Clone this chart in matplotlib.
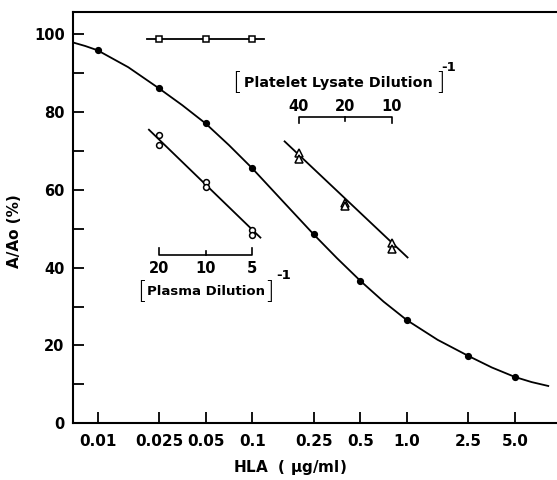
import matplotlib
matplotlib.use('Agg')
import matplotlib.pyplot as plt
from matplotlib.ticker import FixedLocator, NullLocator

# %% data (x in HLA ug/ml, y in A/Ao %)
hla_x = [0.01, 0.025, 0.05, 0.1, 0.25, 0.5, 1.0, 2.5, 5.0]
hla_y = [95.8, 86.0, 77.0, 65.5, 48.5, 36.6, 26.5, 17.3, 11.9]

# fitted curve
fit_x = [0.00694, 0.00832, 0.01, 0.0158, 0.025, 0.0353, 0.05, 0.0707, 0.1,
         0.158, 0.25, 0.3535, 0.5, 0.707, 1.0, 1.58, 2.5, 3.54, 5.0, 6.4, 8.2]
fit_y = [97.8, 96.9, 95.8, 91.45, 86.0, 81.7, 77.0, 71.45, 65.5,
         57.0, 48.5, 42.4, 36.6, 31.25, 26.5, 21.45, 17.3, 14.35, 11.9, 10.6, 9.6]

# plasma dilution (duplicates), plotted on the HLA scale
plasma_x = [0.025, 0.025, 0.05, 0.05, 0.1, 0.1]
plasma_y = [74.0, 71.6, 61.9, 60.7, 49.7, 48.4]
plasma_line_x = [0.0215, 0.113]
plasma_line_y = [75.4, 47.7]
plasma_ticks = [0.025, 0.05, 0.1]
plasma_labels = ['20', '10', '5']

# platelet lysate dilution (duplicates)
plt_x = [0.2, 0.2, 0.4, 0.4, 0.8, 0.8]
plt_y = [69.3, 67.8, 56.6, 55.8, 46.4, 44.7]
plt_line_x = [0.162, 1.01]
plt_line_y = [72.4, 42.6]
plt_ticks = [0.2, 0.4, 0.8]
plt_labels = ['40', '20', '10']

# control (open squares)
ctrl_x = [0.025, 0.05, 0.1]
ctrl_y = [98.6, 98.6, 98.6]
ctrl_line_x = [0.021, 0.119]
ctrl_line_y = [98.6, 98.6]

xticks = [0.01, 0.025, 0.05, 0.1, 0.25, 0.5, 1.0, 2.5, 5.0]
xticklabels = ['0.01', '0.025', '0.05', '0.1', '0.25', '0.5', '1.0', '2.5', '5.0']
yticks = [0, 20, 40, 60, 80, 100]

plt.rcParams['font.family'] = 'DejaVu Sans'
plt.rcParams['font.weight'] = 'bold'

fig = plt.figure(figsize=(5.57, 4.8), dpi=100)
ax = fig.add_axes([0.131, 0.118, 0.869, 0.856])

ax.set_xscale('log')
ax.set_xlim(0.00694, 9.34)
ax.set_ylim(0, 105.5)

# main curve and points
ax.plot(fit_x, fit_y, color='black', lw=1.3)
ax.plot(hla_x, hla_y, 'o', color='black', ms=4.2)

# plasma dilution
ax.plot(plasma_line_x, plasma_line_y, color='black', lw=1.3)
ax.plot(plasma_x, plasma_y, 'o', mfc='white', mec='black', mew=1.1, ms=4.2)

# platelet lysate dilution
ax.plot(plt_line_x, plt_line_y, color='black', lw=1.3)
ax.plot(plt_x, plt_y, '^', mfc='white', mec='black', mew=1.1, ms=5.5)

# control
ax.plot(ctrl_line_x, ctrl_line_y, color='black', lw=1.3)
ax.plot(ctrl_x, ctrl_y, 's', mfc='white', mec='black', mew=1.1, ms=5)

# secondary scale: plasma dilution (bracket below its line)
ax.plot([plasma_ticks[0], plasma_ticks[0], plasma_ticks[-1], plasma_ticks[-1]],
        [45.1, 43.3, 43.3, 45.1], color='black', lw=1.2)
ax.plot([plasma_ticks[1], plasma_ticks[1]], [43.3, 44.3], color='black', lw=1.2)
for xt, lab in zip(plasma_ticks, plasma_labels):
    ax.text(xt, 39.7, lab, ha='center', va='center', fontsize=10.5, fontweight='bold')
ax.text(0.0505, 33.8, 'Plasma Dilution', ha='center', va='center', fontsize=9.5)
ax.text(0.0195, 33.8, '[', ha='center', va='center', fontsize=18, fontweight='light')
ax.text(0.1277, 33.8, ']', ha='center', va='center', fontsize=18, fontweight='light')
ax.text(0.142, 37.9, '-1', ha='left', va='center', fontsize=9.5)

# secondary scale: platelet lysate dilution (bracket above its line)
ax.plot([plt_ticks[0], plt_ticks[0], plt_ticks[-1], plt_ticks[-1]],
        [77.0, 78.7, 78.7, 77.0], color='black', lw=1.2)
ax.plot([plt_ticks[1], plt_ticks[1]], [78.7, 77.7], color='black', lw=1.2)
for xt, lab in zip(plt_ticks, plt_labels):
    ax.text(xt, 81.3, lab, ha='center', va='center', fontsize=10.5, fontweight='bold')
ax.text(0.36, 87.3, 'Platelet Lysate Dilution', ha='center', va='center', fontsize=10.3)
ax.text(0.0802, 87.3, '[', ha='center', va='center', fontsize=18, fontweight='light')
ax.text(1.64, 87.3, ']', ha='center', va='center', fontsize=18, fontweight='light')
ax.text(1.66, 91.4, '-1', ha='left', va='center', fontsize=9.5)

# axes styling
ax.spines['right'].set_visible(False)
for s in ['left', 'bottom', 'top']:
    ax.spines[s].set_linewidth(1.5)
ax.xaxis.set_major_locator(FixedLocator(xticks))
ax.xaxis.set_minor_locator(NullLocator())
ax.set_xticklabels(xticklabels, fontsize=11, fontweight='bold')
ax.set_yticks(yticks)
ax.set_yticklabels([str(v) for v in yticks], fontsize=10.5, fontweight='bold')
ax.set_yticks([10, 30, 50, 70, 90], minor=True)
ax.tick_params(axis='both', which='both', direction='in', length=8, width=1.3)
ax.tick_params(axis='x', pad=8)
ax.tick_params(axis='y', pad=6)

ax.set_xlabel('HLA  ( $\\mathbf{\\mu}$g/ml)', fontsize=11, fontweight='bold')
ax.xaxis.set_label_coords(0.447, -0.085)
ax.set_ylabel('A/Ao (%)', fontsize=11, fontweight='bold')
ax.yaxis.set_label_coords(-0.106, 0.469)

fig.savefig('out.png', dpi=100)
